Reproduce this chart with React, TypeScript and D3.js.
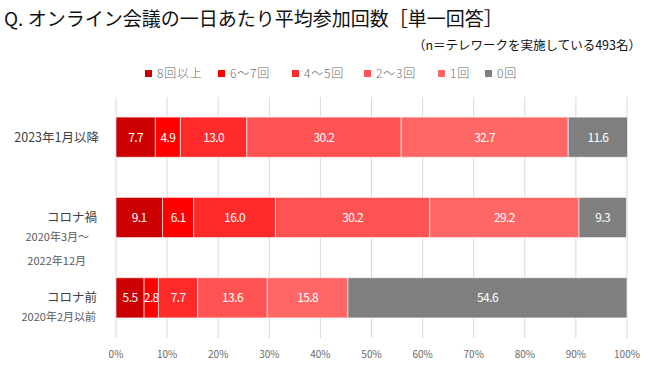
import { useEffect, useRef } from "react";
import * as d3 from "d3";

const categories = ["2023年1月以降", "コロナ禍", "コロナ前"];
const subLabels = [[], ["2020年3月～", "2022年12月"], ["2020年2月以前"]];
const seriesNames = ["8回以上", "6～7回", "4～5回", "2～3回", "1回", "0回"];
const seriesColors = ["#cc0000", "#ff0000", "#ff2b2b", "#ff5252", "#ff6666", "#7f7f7f"];
const values = [
  [7.7, 4.9, 13.0, 30.2, 32.7, 11.6],
  [9.1, 6.1, 16.0, 30.2, 29.2, 9.3],
  [5.5, 2.8, 7.7, 13.6, 15.8, 54.6],
];
const ticks = [0, 10, 20, 30, 40, 50, 60, 70, 80, 90, 100];

const FONT = "'Noto Sans CJK JP', 'Noto Sans', sans-serif";

export default function App() {
  const svgRef = useRef<SVGSVGElement>(null);

  useEffect(() => {
    if (!svgRef.current) return;
    const svg = d3.select(svgRef.current);
    svg.selectAll("*").remove();

    const width = 650;
    const left = 116;
    const right = 627;
    const top = 97;
    const bottom = 338;

    svg.append("rect").attr("width", width).attr("height", 374).attr("fill", "#fff");

    // title
    svg.append("text")
      .attr("x", 4).attr("y", 26)
      .attr("font-size", 19).attr("fill", "#111")
      .attr("font-family", FONT)
      .text("Q. オンライン会議の一日あたり平均参加回数［単一回答］");

    svg.append("text")
      .attr("x", 641).attr("y", 50)
      .attr("text-anchor", "end")
      .attr("font-size", 12.5).attr("fill", "#111")
      .attr("font-family", FONT)
      .text("（n＝テレワークを実施している493名）");

    // legend
    const legendX = [145, 218, 292, 364, 438, 485];
    const lg = svg.append("g").attr("font-family", FONT).attr("font-size", 12);
    seriesNames.forEach((name, i) => {
      lg.append("rect")
        .attr("x", legendX[i]).attr("y", 70)
        .attr("width", 7).attr("height", 7)
        .attr("fill", seriesColors[i]);
      lg.append("text")
        .attr("x", legendX[i] + 12).attr("y", 78)
        .attr("fill", "#6a6a6a")
        .attr("font-weight", 300)
        .attr("letter-spacing", "0.8")
        .text(name);
    });

    const x = d3.scaleLinear().domain([0, 100]).range([left, right]);
    const y = d3.scaleBand().domain(categories).range([top, bottom]).paddingInner(0.5).paddingOuter(0.25);

    // grid
    svg.append("g")
      .selectAll("line")
      .data(ticks)
      .enter()
      .append("line")
      .attr("x1", (d) => x(d)).attr("x2", (d) => x(d))
      .attr("y1", top).attr("y2", bottom)
      .attr("stroke", "#d9d9d9").attr("stroke-width", 1);

    svg.append("g")
      .selectAll("text")
      .data(ticks)
      .enter()
      .append("text")
      .attr("x", (d) => x(d)).attr("y", 358)
      .attr("text-anchor", "middle")
      .attr("font-size", 10).attr("fill", "#6a6a6a")
      .attr("font-family", FONT)
      .text((d) => `${d}%`);

    // bars
    const rows = svg.append("g");
    values.forEach((row, ri) => {
      const cat = categories[ri];
      const y0 = y(cat) ?? 0;
      let acc = 0;
      row.forEach((v, si) => {
        const x0 = x(acc);
        const x1 = x(acc + v);
        acc += v;
        rows.append("rect")
          .attr("x", x0).attr("y", y0)
          .attr("width", x1 - x0).attr("height", y.bandwidth())
          .attr("fill", seriesColors[si])
          .attr("stroke", "#fff").attr("stroke-opacity", 0.6).attr("stroke-width", 1);
        rows.append("text")
          .attr("x", (x0 + x1) / 2).attr("y", y0 + y.bandwidth() / 2 + 4.5)
          .attr("text-anchor", "middle")
          .attr("font-size", 12).attr("fill", "#fff")
          .attr("font-family", FONT)
          .attr("letter-spacing", "-0.6")
          .text(v.toFixed(1));
      });
    });

    // category labels
    const cl = svg.append("g").attr("font-family", FONT).attr("text-anchor", "end");
    const subRight = [[], [89, 86], [96]];
    categories.forEach((cat, i) => {
      const mid = (y(cat) ?? 0) + y.bandwidth() / 2;
      const subs = subLabels[i];
      cl.append("text").attr("x", subs.length === 0 ? 99 : 97).attr("y", mid + 4.5)
        .attr("font-size", 12.5).attr("fill", "#404040").text(cat);
      subs.forEach((s, j) => {
        cl.append("text").attr("x", subRight[i][j]).attr("y", mid + 23 + j * 24)
          .attr("font-size", 11).attr("fill", "#595959").text(s);
      });
    });
  }, []);

  return (
    <svg
      ref={svgRef}
      width={650}
      height={374}
      style={{ position: "absolute", left: 0, top: 0 }}
    />
  );
}
